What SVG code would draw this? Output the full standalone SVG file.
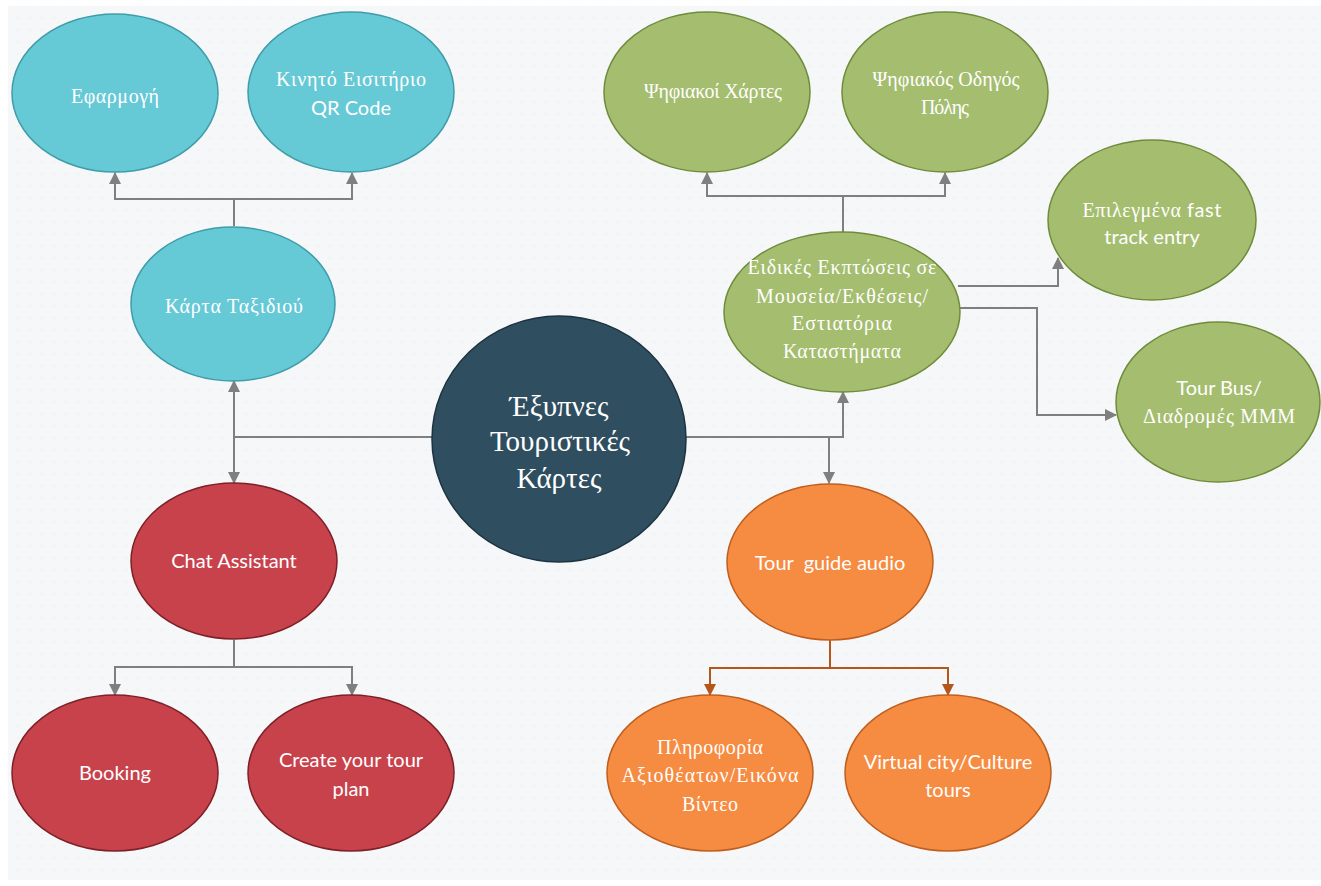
<svg xmlns="http://www.w3.org/2000/svg" width="1321" height="886" viewBox="0 0 1321 886">
<defs>
<pattern id="dots" width="12" height="12" patternUnits="userSpaceOnUse">
<circle cx="6" cy="6" r="0.8" fill="#e6e8ec"/>
</pattern>
<marker id="ag" viewBox="0 0 12 12" refX="11" refY="6" markerWidth="12" markerHeight="12" markerUnits="userSpaceOnUse" orient="auto">
<path d="M0,0 L12,6 L0,12 Z" fill="#7f7f7f"/>
</marker>
<marker id="ao" viewBox="0 0 12 12" refX="11" refY="6" markerWidth="12" markerHeight="12" markerUnits="userSpaceOnUse" orient="auto">
<path d="M0,0 L12,6 L0,12 Z" fill="#b5561a"/>
</marker>
</defs>
<style>
.cy{fill:#66c9d6;stroke:#3f9ca9;stroke-width:1.5}
.gr{fill:#a5bd6f;stroke:#6f8c3b;stroke-width:1.5}
.rd{fill:#c8424c;stroke:#7e2028;stroke-width:1.5}
.or{fill:#f68b42;stroke:#bf5f1f;stroke-width:1.5}
.dk{fill:#2f4e60;stroke:#1d3340;stroke-width:1.5}
.t{fill:#ffffff;text-anchor:middle}
.s{font-family:"Liberation Serif","Noto Serif",serif;font-size:20px}
.l{font-family:Lato,"Open Sans",sans-serif;font-size:20px}
.big{font-family:"Liberation Serif","Noto Serif",serif;font-size:29px}
.c{fill:none;stroke:#7f7f7f;stroke-width:2}
.co{fill:none;stroke:#b5561a;stroke-width:2}
</style>
<rect width="1321" height="886" fill="#ffffff"/>
<rect x="8" y="6" width="1313" height="874" fill="#f6f7f9"/>
<rect x="8" y="6" width="1313" height="874" fill="url(#dots)"/>

<g id="connectors">
<path class="c" d="M234,226 V199 H115 V173" marker-end="url(#ag)"/>
<path class="c" d="M234,199 H352 V173" marker-end="url(#ag)"/>
<path class="c" d="M432,437 H234 V381" marker-end="url(#ag)"/>
<path class="c" d="M234,437 V483" marker-end="url(#ag)"/>
<path class="c" d="M234,640 V667 H115 V695" marker-end="url(#ag)"/>
<path class="c" d="M234,667 H352 V695" marker-end="url(#ag)"/>
<path class="c" d="M686,437 H843 V392" marker-end="url(#ag)"/>
<path class="c" d="M829,437 V483" marker-end="url(#ag)"/>
<path class="c" d="M843,233 V196 H707 V173" marker-end="url(#ag)"/>
<path class="c" d="M843,196 H945 V173" marker-end="url(#ag)"/>
<path class="c" d="M958,286 H1058 V258" marker-end="url(#ag)"/>
<path class="c" d="M960,308 H1037 V415 H1116" marker-end="url(#ag)"/>
<path class="co" d="M830,640 V668 H710 V695" marker-end="url(#ao)"/>
<path class="co" d="M830,668 H948 V695" marker-end="url(#ao)"/>
</g>

<g id="n-efarmogi">
<ellipse class="cy" cx="115" cy="93" rx="103" ry="79"/>
<text class="t s" x="115" y="103" textLength="88">Εφαρμογή</text>
</g>
<g id="n-eisitirio">
<ellipse class="cy" cx="351" cy="92" rx="103" ry="80"/>
<text class="t s" x="351" y="86" textLength="150">Κινητό Εισιτήριο</text>
<text class="t l" x="351" y="115">QR Code</text>
</g>
<g id="n-karta">
<ellipse class="cy" cx="233" cy="304" rx="102" ry="77"/>
<text class="t s" x="234" y="313" textLength="138">Κάρτα Ταξιδιού</text>
</g>
<g id="n-center">
<ellipse class="dk" cx="559" cy="439" rx="127" ry="123"/>
<text class="t big" x="559" y="416">Έξυπνες</text>
<text class="t big" x="560" y="451">Τουριστικές</text>
<text class="t big" x="559" y="488">Κάρτες</text>
</g>
<g id="n-chat">
<ellipse class="rd" cx="234" cy="561" rx="103" ry="78"/>
<text class="t l" x="234" y="568">Chat Assistant</text>
</g>
<g id="n-booking">
<ellipse class="rd" cx="115" cy="773" rx="103" ry="78"/>
<text class="t l" x="115" y="780">Booking</text>
</g>
<g id="n-create">
<ellipse class="rd" cx="351" cy="773" rx="103" ry="78"/>
<text class="t l" x="351" y="767">Create your tour</text>
<text class="t l" x="351" y="796">plan</text>
</g>
<g id="n-xartes">
<ellipse class="gr" cx="707" cy="92" rx="103" ry="80"/>
<text class="t s" x="713" y="98" textLength="138">Ψηφιακοί Χάρτες</text>
</g>
<g id="n-odigos">
<ellipse class="gr" cx="945" cy="92" rx="103" ry="80"/>
<text class="t s" x="946" y="86" textLength="147">Ψηφιακός Οδηγός</text>
<text class="t s" x="945" y="114" textLength="48">Πόλης</text>
</g>
<g id="n-ekptoseis">
<ellipse class="gr" cx="842" cy="312" rx="118" ry="80"/>
<text class="t s" x="842" y="274" textLength="189">Ειδικές Εκπτώσεις σε</text>
<text class="t s" x="842" y="303" textLength="172">Μουσεία/Εκθέσεις/</text>
<text class="t s" x="842" y="330" textLength="100">Εστιατόρια</text>
<text class="t s" x="842" y="358" textLength="118">Καταστήματα</text>
</g>
<g id="n-fasttrack">
<ellipse class="gr" cx="1152" cy="220" rx="104" ry="80"/>
<text class="t s" x="1152" y="217" textLength="139">Επιλεγμένα <tspan class="l">fast</tspan></text>
<text class="t l" x="1152" y="244">track entry</text>
</g>
<g id="n-tourbus">
<ellipse class="gr" cx="1218" cy="402" rx="102" ry="80"/>
<text class="t l" x="1219" y="395">Tour Bus/</text>
<text class="t s" x="1219" y="423" textLength="152">Διαδρομές ΜΜΜ</text>
</g>
<g id="n-audio">
<ellipse class="or" cx="830" cy="562" rx="103" ry="78"/>
<text class="t l" x="830" y="570" xml:space="preserve">Tour  guide audio</text>
</g>
<g id="n-pliroforia">
<ellipse class="or" cx="710" cy="773" rx="103" ry="78"/>
<text class="t s" x="710" y="754" textLength="106">Πληροφορία</text>
<text class="t s" x="710" y="782" textLength="177">Αξιοθέατων/Εικόνα</text>
<text class="t s" x="710" y="811" textLength="56">Βίντεο</text>
</g>
<g id="n-virtual">
<ellipse class="or" cx="948" cy="773" rx="103" ry="78"/>
<text class="t l" x="948" y="769">Virtual city/Culture</text>
<text class="t l" x="948" y="797">tours</text>
</g>
</svg>
